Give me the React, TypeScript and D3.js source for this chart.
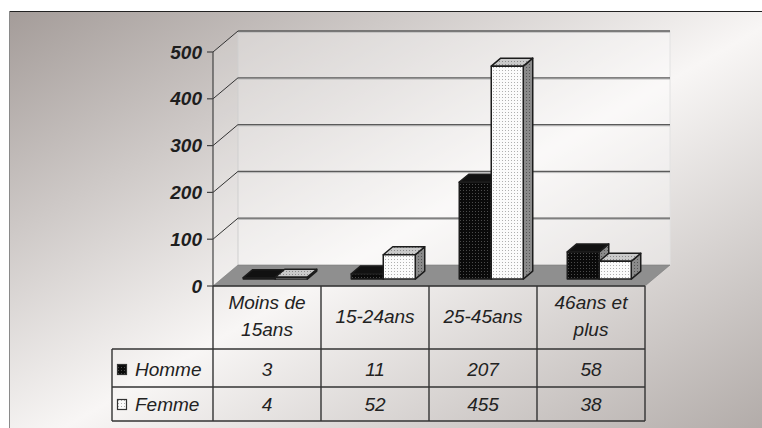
import * as d3 from "d3";

// chart data
const categories = ["Moins de 15ans", "15-24ans", "25-45ans", "46ans et plus"];
const categoryLines = [["Moins de", "15ans"], ["15-24ans"], ["25-45ans"], ["46ans et", "plus"]];
const seriesNames = ["Homme", "Femme"];
const homme = [3, 11, 207, 58];
const femme = [4, 52, 455, 38];
const yTicks = [0, 100, 200, 300, 400, 500];

const W = 762;
const H = 428;
const DX = 25; // floor depth
const DY = 21;
const F0 = 0.33; // bar front depth fraction
const F1 = 0.71; // bar back depth fraction

const rowTop = 286;
const rowHead = 349;
const rowH = 387;
const rowF = 421;
const legendLeft = 112;

const font = "'Liberation Sans', Arial, sans-serif";
const edge = "#1c1c1c";

export default function App() {
  const x = d3.scaleBand<string>().domain(categories).range([213, 645]);
  const xs = d3.scaleBand<string>().domain(seriesNames).range([0, x.bandwidth()]).paddingOuter(0.6875);
  const y = d3.scaleLinear().domain([0, 500]).range([286, 52]);

  const left = x.range()[0];
  const right = x.range()[1];
  const top = y(500);
  const base = y(0);

  const bar = (xl: number, w: number, v: number, front: string, topFill: string, key: string) => {
    const ox = F0 * DX;
    const oy = -F0 * DY;
    const ddx = (F1 - F0) * DX;
    const ddy = (F1 - F0) * DY;
    const x0 = xl + ox;
    const x1 = x0 + w;
    const yt = y(v) + oy;
    const yb = base + oy;
    const topPts = [[x0, yt], [x1, yt], [x1 + ddx, yt - ddy], [x0 + ddx, yt - ddy]];
    const sidePts = [[x1, yt], [x1 + ddx, yt - ddy], [x1 + ddx, yb - ddy], [x1, yb]];
    return (
      <g key={key} stroke={edge} strokeWidth={1.5} strokeLinejoin="round">
        <polygon points={sidePts.map((p) => p.join(",")).join(" ")} fill="url(#pSide)" />
        <polygon points={topPts.map((p) => p.join(",")).join(" ")} fill={topFill} />
        <rect x={x0} y={yt} width={w} height={yb - yt} fill={front} />
      </g>
    );
  };

  const cols = [...categories.map((c) => x(c) as number), right];

  return (
    <svg width={W} height={H} style={{ position: "absolute", left: 0, top: 0, display: "block" }}>
      <defs>
        <linearGradient id="bg" x1="0" y1="0" x2="1" y2="1">
          <stop offset="0" stopColor="#a49c99" />
          <stop offset="0.5" stopColor="#f8f6f5" />
          <stop offset="1" stopColor="#aaa3a0" />
        </linearGradient>
        <pattern id="pDark" width="3" height="3" patternUnits="userSpaceOnUse">
          <rect width="3" height="3" fill="#0a0a0a" />
          <rect x="1" y="1" width="1" height="1" fill="#4a4a4a" />
        </pattern>
        <pattern id="pLight" width="3" height="3" patternUnits="userSpaceOnUse">
          <rect width="3" height="3" fill="#fbfbfb" />
          <rect x="1" y="1" width="1" height="1" fill="#b0b0b0" />
        </pattern>
        <pattern id="pSide" width="3" height="3" patternUnits="userSpaceOnUse">
          <rect width="3" height="3" fill="#8a8a8a" />
          <rect x="1" y="1" width="1" height="1" fill="#555" />
        </pattern>
        <pattern id="pTop" width="3" height="3" patternUnits="userSpaceOnUse">
          <rect width="3" height="3" fill="#cacaca" />
          <rect x="1" y="1" width="1" height="1" fill="#8a8a8a" />
        </pattern>
      </defs>

      {/* background frame */}
      <rect x={9} y={11} width={W + 20} height={H + 20} fill="url(#bg)" />
      <line x1={9} y1={11.5} x2={W} y2={11.5} stroke="#222" strokeWidth={1.2} />
      <line x1={9.5} y1={11} x2={9.5} y2={H} stroke="#8a8a8a" strokeWidth={1} />

      {/* walls */}
      <polygon
        points={`${left + DX},${top - DY} ${right + DX},${top - DY} ${right + DX},${base - DY} ${left + DX},${base - DY}`}
        fill="#ffffff"
        fillOpacity={0.35}
      />
      <polygon
        points={`${left},${top} ${left + DX},${top - DY} ${left + DX},${base - DY} ${left},${base}`}
        fill="#ffffff"
        fillOpacity={0.2}
      />
      <line x1={left + DX} y1={top - DY} x2={left + DX} y2={base - DY} stroke="#cfcfcf" strokeWidth={1} />
      <line x1={right + DX} y1={top - DY} x2={right + DX} y2={base - DY} stroke="#e2e2e2" strokeWidth={1} />

      {/* gridlines */}
      {yTicks.filter((t) => t > 0).map((t) => (
        <g key={"g" + t}>
          <line x1={left + DX} y1={y(t) - DY + 1.2} x2={right + DX} y2={y(t) - DY + 1.2} stroke="#b8b8b8" strokeWidth={1} />
          <line x1={left + DX} y1={y(t) - DY} x2={right + DX} y2={y(t) - DY} stroke="#5a5a5a" strokeWidth={1.3} />
          <line x1={left} y1={y(t)} x2={left + DX} y2={y(t) - DY} stroke="#333" strokeWidth={1} />
        </g>
      ))}

      {/* floor */}
      <polygon
        points={`${left},${base} ${right},${base} ${right + DX},${base - DY} ${left + DX},${base - DY}`}
        fill="#8f8f8f"
        stroke="#7a7a7a"
        strokeWidth={0.6}
      />

      {/* axis */}
      <line x1={left} y1={top} x2={left} y2={base} stroke="#444" strokeWidth={1.2} />
      {yTicks.map((t) => (
        <g key={"t" + t}>
          <line x1={left - 6} y1={y(t)} x2={left} y2={y(t)} stroke="#444" strokeWidth={1.2} />
          <text
            x={left - 11}
            y={y(t)}
            textAnchor="end"
            dominantBaseline="central"
            fontFamily={font}
            fontSize={19}
            fontWeight="bold"
            fontStyle="italic"
            fill="#1e1e1e"
          >
            {t}
          </text>
        </g>
      ))}

      {/* bars */}
      {categories.map((c, i) => (
        <g key={c}>
          {bar((x(c) as number) + (xs("Homme") as number), xs.bandwidth(), homme[i], "url(#pDark)", "#111", "h" + i)}
          {bar((x(c) as number) + (xs("Femme") as number), xs.bandwidth(), femme[i], "url(#pLight)", "url(#pTop)", "f" + i)}
        </g>
      ))}

      {/* data table */}
      <g stroke="#333" strokeWidth={1.4}>
        {cols.map((cx, i) => (
          <line key={"v" + i} x1={cx} y1={rowTop} x2={cx} y2={rowF} />
        ))}
        <line x1={legendLeft} y1={rowHead} x2={legendLeft} y2={rowF} />
        <line x1={legendLeft} y1={rowHead} x2={right} y2={rowHead} />
        <line x1={legendLeft} y1={rowH} x2={right} y2={rowH} />
        <line x1={legendLeft} y1={rowF} x2={right} y2={rowF} />
        <line x1={left} y1={rowTop} x2={right} y2={rowTop} />
      </g>

      {categories.map((c, i) => {
        const cx = (x(c) as number) + x.bandwidth() / 2;
        const lines = categoryLines[i];
        const mid = (rowTop + rowHead) / 2 - 1.5;
        return lines.map((ln, j) => (
          <text
            key={c + j}
            x={cx}
            y={mid + (j - (lines.length - 1) / 2) * 27}
            textAnchor="middle"
            dominantBaseline="central"
            fontFamily={font}
            fontSize={19}
            fontStyle="italic"
            fill="#222"
          >
            {ln}
          </text>
        ));
      })}

      {[homme, femme].map((vals, r) => {
        const cy = r === 0 ? (rowHead + rowH) / 2 + 1 : (rowH + rowF) / 2;
        return (
          <g key={"r" + r}>
            <rect
              x={legendLeft + 5.5}
              y={cy - 4.5}
              width={9}
              height={10}
              fill={r === 0 ? "url(#pDark)" : "url(#pLight)"}
              stroke="#333"
              strokeWidth={1.2}
            />
            <text
              x={legendLeft + 23}
              y={cy}
              dominantBaseline="central"
              fontFamily={font}
              fontSize={19}
              fontStyle="italic"
              fill="#222"
            >
              {seriesNames[r]}
            </text>
            {vals.map((v, i) => (
              <text
                key={i}
                x={(x(categories[i]) as number) + x.bandwidth() / 2}
                y={cy}
                textAnchor="middle"
                dominantBaseline="central"
                fontFamily={font}
                fontSize={19}
                fontStyle="italic"
                fill="#222"
              >
                {v}
              </text>
            ))}
          </g>
        );
      })}
    </svg>
  );
}
